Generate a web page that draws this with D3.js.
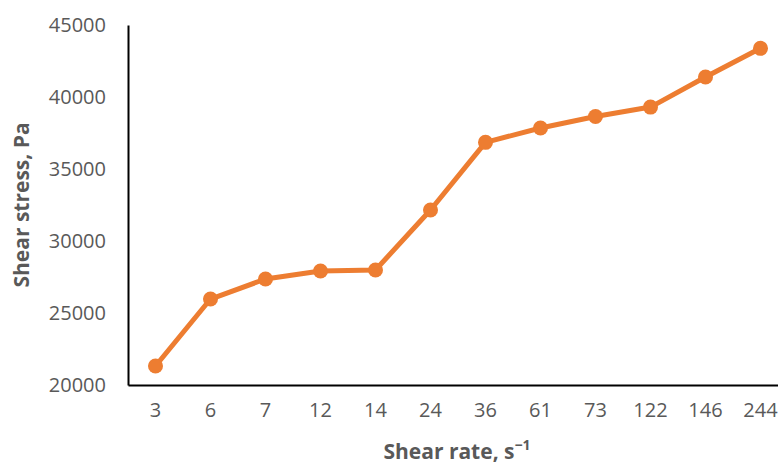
<!DOCTYPE html>
<html><head><meta charset="utf-8">
<script src="https://cdn.jsdelivr.net/npm/d3@7"></script>
<style>body{margin:0;background:#fff}svg{display:block}</style>
</head><body>
<svg id="c" width="778" height="465"></svg>
<script>
const categories = ["3","6","7","12","14","24","36","61","73","122","146","244"];
const stress = [21320, 25970, 27360, 27920, 27990, 32150, 36850, 37850, 38650, 39300, 41390, 43380];
const yTicks = [20000, 25000, 30000, 35000, 40000, 45000];

const svg = d3.select("#c");
const x = d3.scaleBand().domain(categories).range([128, 788]);
const y = d3.scaleLinear().domain([20000, 45000]).range([385, 25]);
const font = "'Open Sans', sans-serif";
const grey = "#595959";

const yAxis = svg.append("g").attr("transform", "translate(128,0)")
  .call(d3.axisLeft(y).tickValues(yTicks).tickSize(0).tickPadding(22).tickFormat(d3.format("d")));
yAxis.select(".domain").attr("stroke", "#000").attr("stroke-width", 2);
yAxis.selectAll("text").attr("font-family", font).attr("font-size", 20).attr("fill", grey);

const xAxis = svg.append("g").attr("transform", "translate(0,385)")
  .call(d3.axisBottom(x).tickSize(0).tickPadding(18));
xAxis.select(".domain").attr("stroke", "#000").attr("stroke-width", 2);
xAxis.selectAll("text").attr("font-family", font).attr("font-size", 20).attr("fill", grey);

const pts = categories.map((c, i) => [x(c) + x.bandwidth() / 2, y(stress[i])]);
svg.append("path").attr("d", d3.line()(pts)).attr("fill", "none")
  .attr("stroke", "#ED7D31").attr("stroke-width", 5).attr("stroke-linejoin", "round");
svg.selectAll("circle.pt").data(pts).join("circle").attr("class", "pt")
  .attr("cx", d => d[0]).attr("cy", d => d[1]).attr("r", 7.5).attr("fill", "#ED7D31");

const xt = svg.append("text").attr("x", 457).attr("y", 459).attr("text-anchor", "middle")
  .attr("font-family", font).attr("font-size", 21).attr("font-weight", "bold").attr("fill", grey);
xt.append("tspan").text("Shear rate, s");
xt.append("tspan").text("\u22121").attr("font-size", 14).attr("dy", -9);

svg.append("text").attr("transform", "translate(29,205) rotate(-90)").attr("text-anchor", "middle")
  .attr("font-family", font).attr("font-size", 21).attr("font-weight", "bold").attr("fill", grey)
  .text("Shear stress, Pa");
</script>
</body></html>
